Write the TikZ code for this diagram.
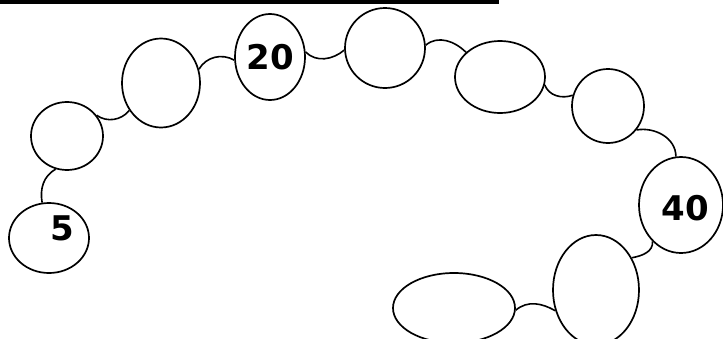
\documentclass[tikz,border=0pt]{standalone}
\usepackage{fontspec}
\setmainfont{DejaVu Sans}
\usetikzlibrary{shapes.geometric}
\begin{document}
\begin{tikzpicture}[x=1pt,y=-1pt,
  bead/.style={draw=black,line width=1.7pt,ellipse,inner sep=0pt},
  lab/.style={font=\fontsize{34}{34}\selectfont\bfseries,inner sep=0pt},
  link/.style={draw=black,line width=1.6pt}]
\useasboundingbox (0,0) rectangle (723,338);
\fill[black] (0,0) rectangle (499,3.5);
\node[bead,minimum width=80pt,minimum height=70pt,label={[lab,xshift=13pt,yshift=10pt]center:5}] (e1) at (49,238) {};
\node[bead,minimum width=72pt,minimum height=68pt] (e2) at (67,136) {};
\node[bead,minimum width=78pt,minimum height=89pt] (e3) at (161,83) {};
\node[bead,minimum width=70pt,minimum height=86pt,label={[lab]center:20}] (e4) at (270,57) {};
\node[bead,minimum width=80pt,minimum height=80pt] (e5) at (385,48) {};
\node[bead,minimum width=90pt,minimum height=72pt] (e6) at (500,77) {};
\node[bead,minimum width=72pt,minimum height=74pt] (e7) at (608,106) {};
\node[bead,minimum width=84pt,minimum height=96pt,label={[lab,xshift=4pt,yshift=-3pt]center:40}] (e8) at (681,205) {};
\node[bead,minimum width=86pt,minimum height=110pt] (e9) at (596,290) {};
\node[bead,minimum width=122pt,minimum height=70pt] (e10) at (454,308) {};
\draw[link] (e1.101) to[out=100,in=210] (e2.251);
\draw[link] (e2.35) to[out=-35,in=230] (e3.221);
\draw[link] (e3.20) to[out=60,in=150] (e4.185);
\draw[link] (e4.8) to[out=-45,in=220] (e5.183);
\draw[link] (e5.4) to[out=40,in=135] (e6.144);
\draw[link] (e6.-10) to[out=-70,in=200] (e7.163);
\draw[link] (e7.-40) to[out=10,in=90] (e8.96);
\draw[link] (e8.232) to[out=-85,in=10] (e9.42);
\draw[link] (e9.207) to[out=150,in=40] (e10.-2);
\end{tikzpicture}
\end{document}
